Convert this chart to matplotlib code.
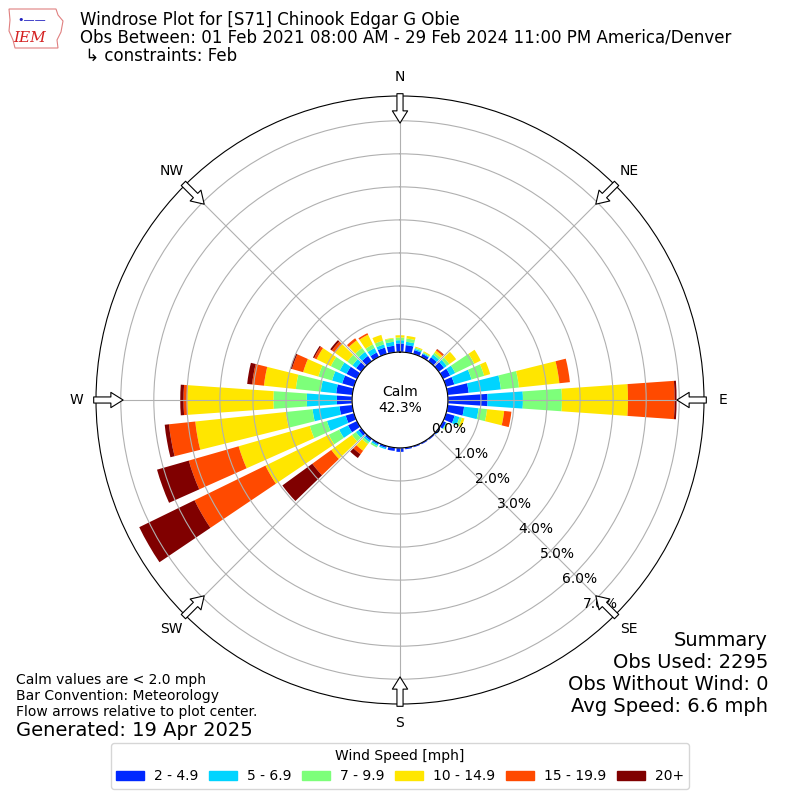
#!/usr/bin/env python3
"""Windrose for S71 Chinook Edgar G Obie, February obs."""

import numpy as np
import matplotlib

matplotlib.use("Agg")
import matplotlib.pyplot as plt
from matplotlib.patches import Polygon, Rectangle

DIRECTIONS = list(range(0, 360, 10))
SPEED_LABELS = ["2 - 4.9", "5 - 6.9", "7 - 9.9", "10 - 14.9", "15 - 19.9", "20+"]
COLORS = ["#0028ff", "#00d4ff", "#7dff7a", "#ffe600", "#ff4a00", "#800000"]

# percent of all obs, per direction bin (0, 10, ... 350 deg), one list per speed bin
SPD_2_5 = [0.26, 0.22, 0.12, 0.10, 0.15, 0.20, 0.24, 0.26, 0.64, 1.20, 0.50, 0.27,
           0.10, 0.05, 0.04, 0.04, 0.04, 0.05, 0.12, 0.10, 0.06, 0.05, 0.07, 0.10,
           0.30, 0.26, 0.39, 0.46, 0.49, 0.37, 0.35, 0.19, 0.20, 0.15, 0.20, 0.20]
SPD_5_7 = [0.10, 0.10, 0.04, 0.03, 0.10, 0.10, 0.17, 0.54, 0.98, 1.07, 0.44, 0.15,
           0.02, 0.01, 0.00, 0.00, 0.00, 0.00, 0.00, 0.00, 0.04, 0.05, 0.06, 0.10,
           0.30, 0.59, 0.82, 0.91, 0.47, 0.32, 0.23, 0.14, 0.15, 0.15, 0.10, 0.12]
SPD_7_10 = [0.08, 0.10, 0.04, 0.03, 0.07, 0.10, 0.64, 0.40, 0.55, 1.18, 0.26, 0.08,
            0.03, 0.00, 0.00, 0.00, 0.00, 0.00, 0.00, 0.00, 0.00, 0.05, 0.07, 0.15,
            0.35, 0.54, 0.81, 1.01, 0.76, 0.43, 0.30, 0.19, 0.15, 0.12, 0.12, 0.10]
SPD_10_15 = [0.07, 0.08, 0.03, 0.03, 0.08, 0.25, 0.22, 0.19, 1.23, 2.00, 0.52, 0.08,
             0.02, 0.00, 0.00, 0.00, 0.00, 0.00, 0.00, 0.00, 0.00, 0.00, 0.25, 0.77,
             2.13, 2.24, 2.76, 2.61, 0.97, 0.48, 0.48, 0.46, 0.28, 0.33, 0.18, 0.02]
SPD_15_20 = [0.00, 0.00, 0.00, 0.00, 0.05, 0.00, 0.00, 0.00, 0.32, 1.41, 0.22, 0.00,
             0.00, 0.00, 0.00, 0.00, 0.00, 0.00, 0.00, 0.00, 0.00, 0.00, 0.13, 0.71,
             2.39, 1.57, 0.80, 0.11, 0.36, 0.35, 0.08, 0.12, 0.08, 0.05, 0.00, 0.00]
SPD_20P = [0.00, 0.00, 0.00, 0.00, 0.01, 0.00, 0.00, 0.00, 0.00, 0.06, 0.00, 0.00,
           0.00, 0.00, 0.00, 0.00, 0.00, 0.00, 0.00, 0.00, 0.00, 0.00, 0.14, 1.12,
           1.86, 1.00, 0.13, 0.10, 0.15, 0.05, 0.04, 0.06, 0.00, 0.00, 0.00, 0.00]

CALM_PCT = 42.3
RTICKS = [0, 1, 2, 3, 4, 5, 6, 7]
COMPASS = ["N", "NE", "E", "SE", "S", "SW", "W", "NW"]
COMPASS_DEG = [0, 45, 90, 135, 180, 225, 270, 315]

TITLE_LINES = [
    "Windrose Plot for [S71] Chinook Edgar G Obie",
    "Obs Between: 01 Feb 2021 08:00 AM - 29 Feb 2024 11:00 PM America/Denver",
    " \u21b3 constraints: Feb",
]
NOTE_LINES = [
    "Calm values are < 2.0 mph",
    "Bar Convention: Meteorology",
    "Flow arrows relative to plot center.",
]
SUMMARY_LINES = ["Summary", "Obs Used: 2295", "Obs Without Wind: 0", "Avg Speed: 6.6 mph"]

# rough state outline behind the IEM logo text, in figure pixels
LOGO_OUTLINE = [(9, 9), (56, 9), (58, 15), (63, 21), (61, 32), (57, 40), (58, 48),
                (15, 48), (13, 40), (9, 31), (10, 20)]


def main() -> None:
    fig = plt.figure(figsize=(8, 8), dpi=100)
    ax = fig.add_axes([0.12, 0.12, 0.76, 0.76], projection="polar")
    ax.set_theta_zero_location("N")
    ax.set_theta_direction(-1)
    ax.set_rorigin(-1.45)
    ax.set_rlim(0, 7.75)

    theta = np.deg2rad(DIRECTIONS)
    bottom = np.zeros(len(DIRECTIONS))
    series = [SPD_2_5, SPD_5_7, SPD_7_10, SPD_10_15, SPD_15_20, SPD_20P]
    for vals, color, label in zip(series, COLORS, SPEED_LABELS):
        vals = np.asarray(vals)
        ax.bar(theta, vals, width=np.deg2rad(8), bottom=bottom, color=color,
               label=label, linewidth=0, align="center")
        bottom += vals

    ax.set_rticks(RTICKS)
    ax.set_yticklabels([f"{v:.1f}%" for v in RTICKS], fontsize=10)
    ax.set_rlabel_position(139)
    ax.set_thetagrids(COMPASS_DEG, COMPASS, fontsize=10)
    ax.tick_params(axis="x", pad=3.5)
    ax.grid(True, color="#b0b0b0", linewidth=0.8)

    # flow arrows at the compass points, pointing at the plot center
    for deg in COMPASS_DEG:
        th = np.deg2rad(deg)
        ax.annotate(
            "", xy=(th, 6.93), xytext=(th, 7.82),
            arrowprops=dict(arrowstyle="simple,head_length=0.8,head_width=1.0,tail_width=0.4",
                            fc="white", ec="black", lw=0.8, mutation_scale=11,
                            shrinkA=0, shrinkB=0),
            annotation_clip=False, zorder=5,
        )

    fig.text(0.5, 0.5, f"Calm\n{CALM_PCT:.1f}%", ha="center", va="center", fontsize=10)

    for i, line in enumerate(TITLE_LINES):
        fig.text(0.1, 1 - (20 + 18 * i) / 800, line, ha="left", va="center", fontsize=12)

    # logo stand-in
    outline = [(x / 800, 1 - y / 800) for x, y in LOGO_OUTLINE]
    fig.patches.append(Polygon(outline, closed=True, fill=False, ec="#e08080", lw=0.8,
                               transform=fig.transFigure, figure=fig))
    fig.text(30 / 800, 1 - 38 / 800, "IEM", color="#d42020", fontsize=11,
             family="serif", style="italic", ha="center", va="center")
    fig.text(32 / 800, 1 - 20 / 800, "\u2022\u2014\u2014", color="#2020c0", fontsize=8,
             ha="center", va="center")

    for i, line in enumerate(NOTE_LINES):
        fig.text(0.02, 1 - (680 + 16 * i) / 800, line, ha="left", va="center", fontsize=10)
    fig.text(0.02, 1 - 730 / 800, "Generated: 19 Apr 2025", ha="left", va="center", fontsize=14)

    for i, line in enumerate(SUMMARY_LINES):
        fig.text(0.96, 1 - (640 + 22 * i) / 800, line, ha="right", va="center", fontsize=14)

    handles = [Rectangle((0, 0), 1, 1, color=c) for c in COLORS]
    fig.legend(handles, SPEED_LABELS, loc="lower center", bbox_to_anchor=(0.5, 0.005),
               ncol=6, title="Wind Speed [mph]", fontsize=10, title_fontsize=10,
               handlelength=2.0, handleheight=0.6, handletextpad=0.7, columnspacing=0.8)

    fig.savefig("out.png", dpi=100)
    plt.close(fig)


if __name__ == "__main__":
    main()
